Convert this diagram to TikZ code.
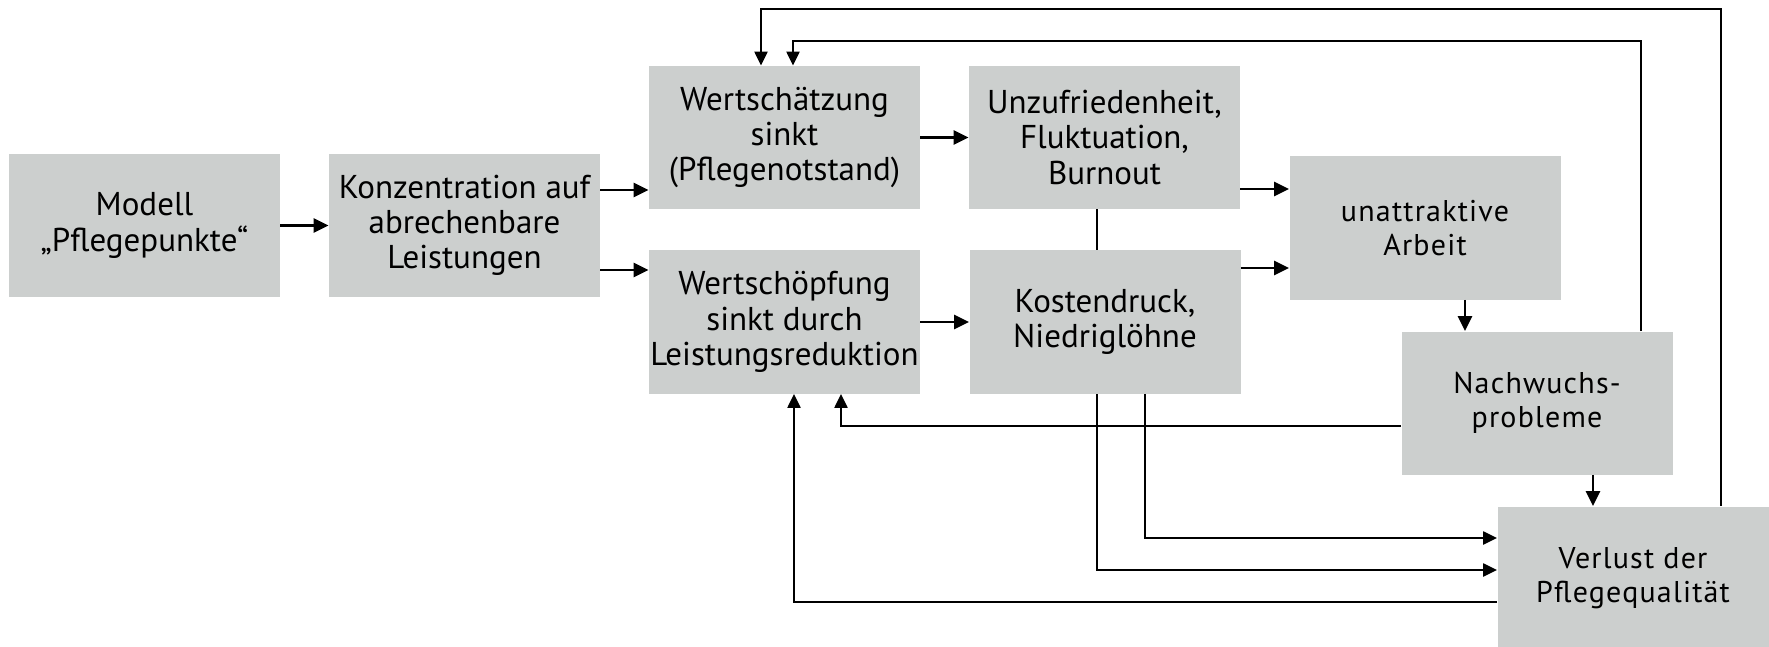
\documentclass[tikz,border=0pt]{standalone}
\usepackage{fontspec}
\setmainfont{PT Sans}
\newfontfamily\widefont[LetterSpace=4]{PT Sans}
\usetikzlibrary{arrows.meta,backgrounds}
\definecolor{boxgray}{RGB}{204,207,206}
\tikzset{
  box/.style={fill=boxgray, draw=none, minimum width=271*0.5pt, minimum height=143*0.5pt,
    inner sep=0pt, align=center, font=\fontsize{16.5}{17.6}\selectfont},
  widebox/.style={box, font=\fontsize{15}{16.8}\selectfont\widefont},
  arr/.style={line width=1.3pt, -{Triangle[length=7.5pt,width=7pt]}},
  fb/.style={line width=1.1pt, -{Triangle[length=7pt,width=6.5pt]}}
}
\begin{document}
\begin{tikzpicture}[x=0.5pt,y=-0.5pt]
\useasboundingbox (0,0) rectangle (1769,647);
\node[box] (modell) at (144.5,225.5) {Modell\\„Pflegepunkte“};
\node[box] (konz) at (464.5,225.5) {Konzentration auf\\abrechenbare\\Leistungen};
\node[box] (wert) at (784.5,137.5) {Wertschätzung\\sinkt\\(Pflegenotstand)};
\node[box] (unzuf) at (1104.5,137.5) {Unzufriedenheit,\\Fluktuation,\\Burnout};
\node[box] (wsch) at (784.5,322) {Wertschöpfung\\sinkt durch\\Leistungsreduktion};
\node[box] (kost) at (1105,322) {Kostendruck,\\Niedriglöhne};
\node[widebox] (unattr) at (1425,228) {unattraktive\\Arbeit};
\node[widebox] (nach) at (1537,403) {Nachwuchs-\\probleme};
\node[widebox] (verl) at (1633,578) {Verlust der\\Pflegequalität};

\draw[arr] (modell) -- (konz);
\draw[arr] (konz.east |- 0,190) -- (wert.west |- 0,190);
\draw[arr] (konz.east |- 0,270) -- (wsch.west |- 0,270);
\draw[arr] (wert) -- (unzuf);
\draw[arr] (wsch) -- (kost);
\draw[arr] (unzuf.east |- 0,189) -- (unattr.west |- 0,189);
\draw[arr] (kost.east |- 0,268) -- (unattr.west |- 0,268);
\draw[arr] (unattr.south -| 1465,0) -- (nach.north -| 1465,0);
\draw[arr] (nach.south -| 1593,0) -- (verl.north -| 1593,0);

\begin{scope}[on background layer]
\draw[fb] (unzuf.south -| 1097,0) -- (1097,570) -- (verl.west |- 0,570);
\end{scope}
\draw[fb] (kost.south -| 1145,0) -- (1145,538) -- (verl.west |- 0,538);
\draw[fb] (verl.west |- 0,602) -- (794,602) -- (wsch.south -| 794,0);
\draw[fb] (nach.west |- 0,426) -- (841,426) -- (wsch.south -| 841,0);
\draw[fb] (verl.north -| 1721,0) -- (1721,9) -- (761,9) -- (wert.north -| 761,0);
\draw[fb] (nach.north -| 1641,0) -- (1641,41) -- (793,41) -- (wert.north -| 793,0);
\end{tikzpicture}
\end{document}
